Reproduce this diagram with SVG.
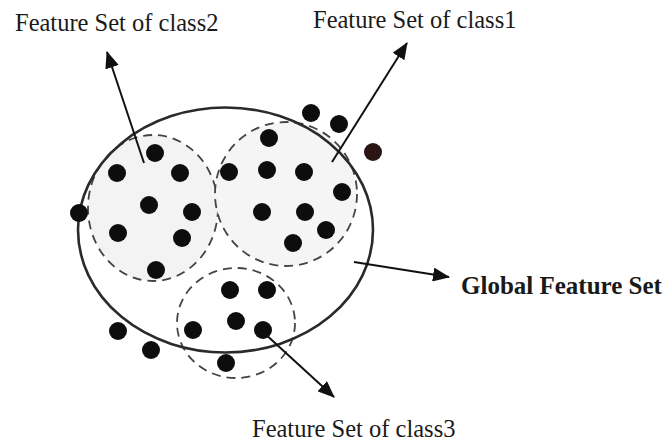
<svg xmlns="http://www.w3.org/2000/svg" width="664" height="447" viewBox="0 0 664 447">
  <style>
    .label { font-family: "Liberation Serif", "Times New Roman", serif; font-size: 24.5px; fill: #1a1a1a; }
    .bold { font-weight: bold; font-size: 25px; }
    .global { fill: none; stroke: #2a2a2a; stroke-width: 2.6; }
    .subset { stroke: #444; stroke-width: 1.8; stroke-dasharray: 9 6; }
    .dot { fill: #0d0d0d; }
    .link { stroke: #111; stroke-width: 2; fill: none; marker-end: url(#arrow); }
  </style>
  <defs>
    <marker id="arrow" markerUnits="userSpaceOnUse" markerWidth="18" markerHeight="14" refX="16" refY="7" orient="auto">
      <path d="M0,0 L17,7 L0,14 Z" fill="#111"/>
    </marker>
  </defs>
  <rect width="664" height="447" fill="#fff"/>

  <!-- class subsets (dashed) -->
  <g id="class2">
    <ellipse class="subset" cx="153" cy="208" rx="65" ry="73" fill="#f3f3f3"/>
  </g>
  <g id="class1">
    <ellipse class="subset" cx="286" cy="194" rx="71" ry="72" fill="#f5f5f5"/>
  </g>
  <g id="class3">
    <ellipse class="subset" cx="236" cy="323" rx="59" ry="55" fill="none"/>
  </g>

  <!-- global feature set -->
  <g id="global">
    <ellipse class="global" cx="225.5" cy="230" rx="147.5" ry="122.5"/>
  </g>

  <!-- feature points -->
  <g id="points">
    <circle class="dot" cx="155" cy="153" r="9"/>
    <circle class="dot" cx="117" cy="173" r="9"/>
    <circle class="dot" cx="180" cy="173" r="9"/>
    <circle class="dot" cx="149" cy="205" r="9"/>
    <circle class="dot" cx="192" cy="212" r="9"/>
    <circle class="dot" cx="79" cy="213" r="9"/>
    <circle class="dot" cx="118" cy="233" r="9"/>
    <circle class="dot" cx="182" cy="238" r="9"/>
    <circle class="dot" cx="156" cy="270" r="9"/>

    <circle class="dot" cx="311" cy="113" r="9"/>
    <circle class="dot" cx="339" cy="124" r="9"/>
    <circle class="dot" cx="373" cy="152" r="9" style="fill:#2a1414"/>
    <circle class="dot" cx="269" cy="138" r="9"/>
    <circle class="dot" cx="229" cy="172" r="9"/>
    <circle class="dot" cx="267" cy="170" r="9"/>
    <circle class="dot" cx="304" cy="172" r="9"/>
    <circle class="dot" cx="342" cy="192" r="9"/>
    <circle class="dot" cx="262" cy="212" r="9"/>
    <circle class="dot" cx="305" cy="212" r="9"/>
    <circle class="dot" cx="326" cy="230" r="9"/>
    <circle class="dot" cx="293" cy="243" r="9"/>

    <circle class="dot" cx="230" cy="290" r="9"/>
    <circle class="dot" cx="267" cy="290" r="9"/>
    <circle class="dot" cx="236" cy="321" r="9"/>
    <circle class="dot" cx="263" cy="330" r="9"/>
    <circle class="dot" cx="193" cy="330" r="9"/>
    <circle class="dot" cx="118" cy="331" r="9"/>
    <circle class="dot" cx="151" cy="350" r="9"/>
    <circle class="dot" cx="226" cy="363" r="9"/>
  </g>

  <!-- pointer arrows -->
  <g id="connectors">
    <line class="link" x1="144" y1="163" x2="107" y2="52"/>
    <line class="link" x1="332" y1="162" x2="407" y2="43"/>
    <line class="link" x1="354" y1="262" x2="449" y2="277"/>
    <line class="link" x1="263" y1="332" x2="334" y2="397"/>
  </g>

  <!-- labels -->
  <g id="labels">
    <text class="label" x="15" y="31">Feature Set of class2</text>
    <text class="label" x="313" y="28">Feature Set of class1</text>
    <text class="label bold" x="461" y="294">Global Feature Set</text>
    <text class="label" x="252" y="437">Feature Set of class3</text>
  </g>
</svg>
